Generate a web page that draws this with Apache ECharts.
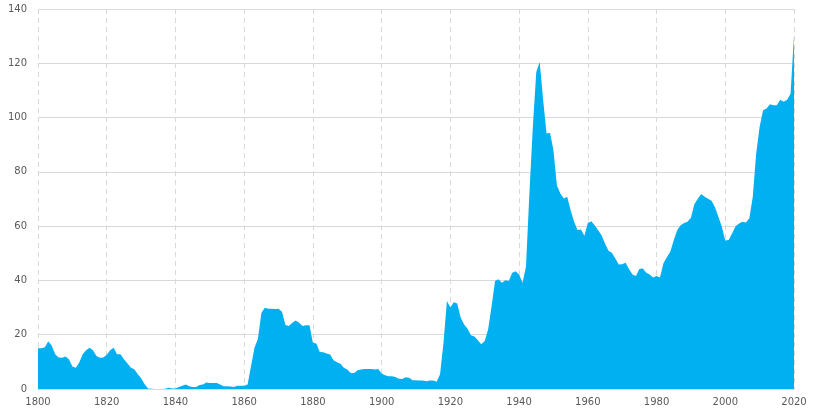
<!DOCTYPE html>
<html><head><meta charset="utf-8">
<script src="https://cdn.jsdelivr.net/npm/echarts@6/dist/echarts.min.js"></script>
<style>html,body{margin:0;padding:0;background:#fff}#c{width:816px;height:410px}</style>
</head><body><div id="c"></div>
<script>
const startYear = 1800;
const values = [
 15.0,15.0,15.4,17.6,15.9,12.8,11.6,11.5,12.0,11.0,
 8.3,7.8,9.8,12.8,14.3,15.2,14.3,12.2,11.5,11.6,
 12.6,14.3,15.2,12.8,12.8,11.0,9.5,7.9,7.3,5.5,
 4.0,1.8,0.2,0.1,0.0,0.0,0.0,0.1,0.5,0.2,
 0.2,0.7,1.2,1.7,1.0,0.7,0.7,1.5,1.7,2.4,
 2.2,2.2,2.2,1.7,1.0,1.0,0.9,0.7,1.2,1.2,
 1.2,1.7,8.5,15.2,18.5,28.0,29.9,29.6,29.6,29.5,
 29.6,28.5,23.6,23.2,24.4,25.2,24.4,23.2,23.5,23.5,
 17.0,16.8,13.6,13.5,13.1,12.7,10.6,9.9,9.3,7.8,
 7.2,5.9,5.9,6.9,7.2,7.4,7.4,7.4,7.2,7.4,
 5.7,5.1,4.7,4.7,4.4,3.8,3.7,4.3,4.1,3.2,
 3.2,3.1,3.1,2.9,3.1,3.1,2.7,5.4,17.0,32.4,
 30.0,32.0,31.5,26.3,23.8,22.2,19.8,19.3,18.0,16.5,
 17.7,22.0,30.6,39.8,40.4,39.1,40.1,39.8,42.8,43.4,
 42.2,39.1,45.0,72.0,96.6,116.8,120.5,106.4,94.1,94.4,
 88.0,75.1,72.0,70.2,70.8,65.9,61.6,58.6,58.8,56.5,
 61.2,61.8,60.3,58.5,56.6,53.6,50.9,50.2,48.1,45.9,
 46.0,46.5,44.1,42.2,41.6,44.2,44.4,42.8,42.2,41.1,
 41.6,41.1,46.3,48.5,50.6,54.8,58.5,60.3,61.2,61.6,
 63.1,68.1,70.1,71.8,70.8,70.1,69.4,67.0,63.5,59.8,
 54.7,54.9,57.4,60.0,61.0,61.6,61.3,62.9,70.8,86.8,
 96.6,102.7,103.3,104.9,104.5,104.5,106.6,105.8,106.6,108.8,
 130.3
];
const yTicks = [0,20,40,60,80,100,120,140];
const xTicks = [1800,1820,1840,1860,1880,1900,1920,1940,1960,1980,2000,2020];

const data = values.map((v,i)=>[startYear+i, v]);
const chart = echarts.init(document.getElementById('c'), null, {renderer:'canvas'});
const lbl = {color:'#595959', fontFamily:'DejaVu Sans', fontSize:10};
chart.setOption({
  animation:false,
  grid:{left:38,right:22,top:9,bottom:21,containLabel:false},
  xAxis:{type:'value',min:xTicks[0],max:xTicks[xTicks.length-1],interval:20,
    axisLine:{show:true,lineStyle:{color:'#D9D9D9'}},
    axisTick:{show:false},
    axisLabel:Object.assign({margin:8,formatter:v=>String(v)},lbl),
    splitLine:{show:true,lineStyle:{color:'#D9D9D9',type:[5,4]}}},
  yAxis:{type:'value',min:yTicks[0],max:yTicks[yTicks.length-1],interval:20,
    axisLine:{show:false},axisTick:{show:false},
    axisLabel:Object.assign({margin:11,formatter:v=>String(v)},lbl),
    splitLine:{show:true,lineStyle:{color:'#D9D9D9'}}},
  series:[{type:'line',data:data,symbol:'none',
    lineStyle:{width:0,color:'#00B0F0'},
    areaStyle:{color:'#00B0F0',opacity:1}}]
});
</script></body></html>
